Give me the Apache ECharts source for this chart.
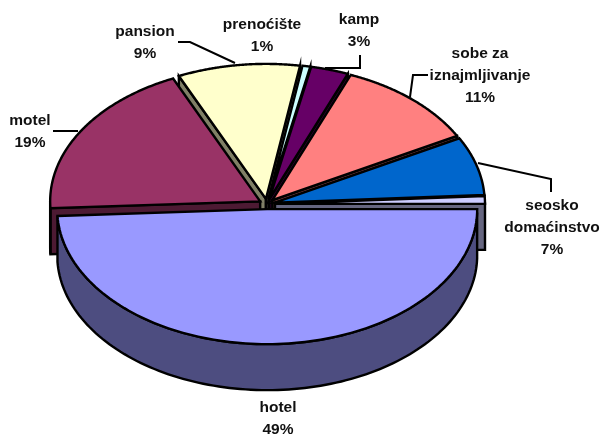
<!DOCTYPE html>
<html><head><meta charset="utf-8">
<style>html,body{margin:0;padding:0;background:#fff}#c{width:601px;height:434px}</style>
<script src="https://cdn.jsdelivr.net/npm/echarts@6/dist/echarts.min.js"></script>
</head><body><div id="c"></div>
<script>
// data, clockwise from the left edge of "motel"
const categories = ['motel','pansion','prenoćište','kamp','sobe za\niznajmljivanje','seosko\ndomaćinstvo','','hotel'];
const values = [19, 9.4, 0.6, 2.9, 11, 7, 0.9, 49.2];
const topColors = ['#993366','#FFFFCC','#CCFFFF','#660066','#FF8080','#0066CC','#CCCCFF','#9999FF'];
const sideColors = ['#4D1A33','#808066','#668080','#330033','#804040','#003366','#666680','#4D4D80'];

// layout (separate from data)
const geo = {cx:267, cy:204, rx:210, ry:135, depth:46, explode:8, start:177.1};
const labelPos = [[30,121],[145,32],[262,25],[359,20],[480,54],[552,206],null,[278,408]];
const leaders = [
  [[53,131],[78,131]],
  [[178,42],[190,42],[235,63]],
  null,
  [[360,55],[360,68],[325,68]],
  [[428,75],[413,75],[410,97]],
  [[478,163],[551,179],[551,192]],
  null, null
];

const total = values.reduce((a,b)=>a+b,0);
const rad = d=>d*Math.PI/180;
const slices = []; let acc = geo.start;
values.forEach((v,i)=>{const a0=acc,a1=acc+v/total*360;acc=a1;slices.push({a0,a1,mid:(a0+a1)/2});});
const order = slices.map((s,i)=>i).sort((p,q)=>Math.sin(rad(slices[p].mid))-Math.sin(rad(slices[q].mid)));
const rank = []; order.forEach((i,r)=>rank[i]=r);

function renderItem(params, api){
  const i = api.value(0), s = slices[i], r = rank[i], children = [];
  const ox = geo.cx+geo.explode*Math.cos(rad(s.mid));
  const oy = geo.cy+geo.explode*geo.ry/geo.rx*Math.sin(rad(s.mid));
  const pt = (a,d)=>[ox+geo.rx*Math.cos(rad(a)), oy+geo.ry*Math.sin(rad(a))+(d||0)];
  const st = (fill)=>({fill, stroke:'#000', lineWidth:2.4, lineJoin:'miter'});
  const add = (points,fill,k)=>children.push({type:'polygon',shape:{points},style:st(fill),z2:10*r+k});
  const apex=[ox,oy], apexD=[ox,oy+geo.depth];
  if(Math.cos(rad(s.a0))<0) add([apex,pt(s.a0),pt(s.a0,geo.depth),apexD],sideColors[i],1);
  if(Math.cos(rad(s.a1))>0) add([apex,pt(s.a1),pt(s.a1,geo.depth),apexD],sideColors[i],1);
  const up=[],dn=[];
  for(let k=0;k<=120;k++){
    const a=s.a0+(s.a1-s.a0)*k/120;
    if(Math.sin(rad(a))>=0){up.push(pt(a));dn.unshift(pt(a,geo.depth));}
  }
  if(up.length>1) add(up.concat(dn),sideColors[i],2);
  const top=[apex];
  for(let k=0;k<=120;k++) top.push(pt(s.a0+(s.a1-s.a0)*k/120));
  add(top,topColors[i],3);
  if(leaders[i]) children.push({type:'polyline',shape:{points:leaders[i]},style:{fill:null,stroke:'#000',lineWidth:2},z2:1000});
  if(labelPos[i]){
    children.push({type:'text',z2:1001,style:{
      text:categories[i]+'\n'+Math.round(values[i]/total*100)+'%',
      x:labelPos[i][0],y:labelPos[i][1]-11,align:'center',verticalAlign:'top',
      font:'bold 15.5px "Liberation Sans", Arial, sans-serif',lineHeight:22,fill:'#111'}});
  }
  return {type:'group',children};
}

const chart = echarts.init(document.getElementById('c'),null,{renderer:'canvas'});
chart.setOption({
  animation:false,
  backgroundColor:'#fff',
  series:[{type:'custom',coordinateSystem:'none',silent:true,renderItem,
    data:values.map((v,i)=>[i,v])}]
});
</script></body></html>
